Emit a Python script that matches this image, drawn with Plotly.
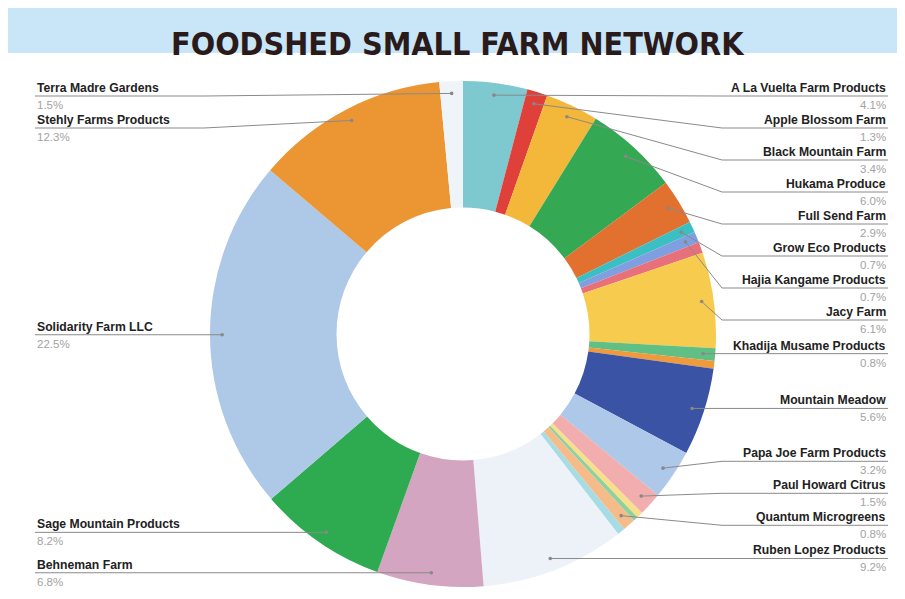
import plotly.graph_objects as go
import math

W, H = 905, 599

# ---- data ----
farms = [
    "A La Vuelta Farm Products", "Apple Blossom Farm", "Black Mountain Farm",
    "Hukama Produce", "Full Send Farm", "Grow Eco Products",
    "Hajia Kangame Products", "", "Jacy Farm", "Khadija Musame Products", "",
    "Mountain Meadow", "Papa Joe Farm Products", "Paul Howard Citrus", "", "",
    "Quantum Microgreens", "", "Ruben Lopez Products", "Behneman Farm",
    "Sage Mountain Products", "Solidarity Farm LLC", "Stehly Farms Products",
    "Terra Madre Gardens",
]
shares = [4.1, 1.3, 3.4, 6.0, 2.9, 0.7, 0.7, 0.7, 6.1, 0.8, 0.5, 5.6, 3.2, 1.5,
          0.4, 0.3, 0.8, 0.5, 9.2, 6.8, 8.2, 22.5, 12.3, 1.5]
colors = ["#7ec8d0", "#e0403a", "#f3b73a", "#34a853", "#e2702f", "#3cbfc3",
          "#7f9fe0", "#e8707a", "#f7cb4d", "#5fbf84", "#ef9a3c", "#3a53a4",
          "#aec8ea", "#f2aeae", "#f8e08a", "#8fd0a0", "#f5bc8a", "#a8dce4",
          "#ecf2f8", "#d4a5c0", "#2eaa50", "#aec8e8", "#eb9632", "#eef4f8"]
title_text = "FOODSHED SMALL FARM NETWORK"

# ---- layout constants (screen pixels) ----
OFF = 8  # page body margin offset
CX, CY, R = 463, 334, 253
HOLE = 0.5
DOT_R = 0.952 * R
RIGHT_TEXT_X, LEFT_TEXT_X = 888, 35
ELBOW_OFF = 259
SPACING = 32
YMIN, YMAX = 96, 580


def px(x):
    return (x - OFF) / W


def py(y):
    return 1 - (y - OFF) / H


fig = go.Figure()
fig.add_trace(go.Pie(
    labels=[f if f else f"other {i}" for i, f in enumerate(farms)],
    values=shares, sort=False, direction="clockwise", rotation=0,
    hole=HOLE, marker=dict(colors=colors, line=dict(width=0)),
    textinfo="none", hoverinfo="label+percent", showlegend=False,
    domain=dict(x=[px(CX - R), px(CX + R)],
                y=[py(CY + R), py(CY - R)]),
))

total = sum(shares)
items = []
cum = 0.0
for name, v in zip(farms, shares):
    mid = (cum + v / 2) / total * 2 * math.pi
    cum += v
    if not name:
        continue
    dx = CX + DOT_R * math.sin(mid)
    dy = CY - DOT_R * math.cos(mid)
    items.append(dict(name=name, pct=v / total * 100, dx=dx, dy=dy,
                      side="right" if mid < math.pi else "left"))


def relax(desired):
    clusters = [[i, i, d] for i, d in enumerate(desired)]
    changed = True
    while changed:
        changed = False
        for c in clusters:
            n = c[1] - c[0] + 1
            mean = sum(desired[c[0]:c[1] + 1]) / n - SPACING * (n - 1) / 2
            c[2] = min(max(mean, YMIN), YMAX - SPACING * (n - 1))
        for k in range(len(clusters) - 1):
            a, b = clusters[k], clusters[k + 1]
            end_a = a[2] + SPACING * (a[1] - a[0])
            if b[2] < end_a + SPACING - 1e-6:
                clusters[k] = [a[0], b[1], 0]
                del clusters[k + 1]
                changed = True
                break
    out = []
    for c in clusters:
        for j in range(c[1] - c[0] + 1):
            out.append(c[2] + SPACING * j)
    return out


shapes = []
annotations = []
line_style = dict(color="#8a8a8a", width=1)
for side in ("right", "left"):
    group = sorted([it for it in items if it["side"] == side], key=lambda t: t["dy"])
    ys = relax([it["dy"] for it in group])
    for it, ly in zip(group, ys):
        if side == "right":
            tx, ex, anchor = RIGHT_TEXT_X, CX + ELBOW_OFF, "right"
        else:
            tx, ex, anchor = LEFT_TEXT_X, CX - ELBOW_OFF, "left"
        shapes.append(dict(type="line", xref="paper", yref="paper", layer="above",
                           x0=px(tx), y0=py(ly), x1=px(ex), y1=py(ly), line=line_style))
        shapes.append(dict(type="line", xref="paper", yref="paper", layer="above",
                           x0=px(ex), y0=py(ly), x1=px(it["dx"]), y1=py(it["dy"]),
                           line=line_style))
        shapes.append(dict(type="circle", xref="paper", yref="paper", layer="above",
                           x0=px(it["dx"] - 1.8), x1=px(it["dx"] + 1.8),
                           y0=py(it["dy"] - 1.8), y1=py(it["dy"] + 1.8),
                           fillcolor="#888888", line=dict(width=0)))
        annotations.append(dict(x=px(tx), y=py(ly - 8), xref="paper", yref="paper",
                                text=f"<b>{it['name']}</b>", showarrow=False,
                                xanchor=anchor, yanchor="middle",
                                font=dict(family="Liberation Sans, Arial", size=12.2,
                                          color="#222222")))
        annotations.append(dict(x=px(tx), y=py(ly + 9), xref="paper", yref="paper",
                                text=f"{it['pct']:.1f}%", showarrow=False,
                                xanchor=anchor, yanchor="middle",
                                font=dict(family="Liberation Sans, Arial", size=11.5,
                                          color="#a3a3a3")))

# background decorations: title band and left border
shapes.insert(0, dict(type="rect", xref="paper", yref="paper", layer="below",
                      x0=px(4), x1=px(W + OFF), y0=py(53), y1=py(5),
                      fillcolor="#c8e6f8", line=dict(width=0)))
shapes.insert(0, dict(type="line", xref="paper", yref="paper", layer="below",
                      x0=px(6), x1=px(6), y0=py(53), y1=py(455),
                      line=dict(color="#d6ecf8", width=2)))
shapes.insert(0, dict(type="line", xref="paper", yref="paper", layer="below",
                      x0=px(6), x1=px(6), y0=py(455), y1=py(H + OFF),
                      line=dict(color="#b8d46c", width=3)))

annotations.append(dict(x=px(458), y=py(44), xref="paper", yref="paper",
                        text=f"<b>{title_text}</b>", showarrow=False, xanchor="center",
                        yanchor="middle",
                        font=dict(family="DejaVu Sans Condensed, DejaVu Sans",
                                  size=32, color="#2b1a1a")))

fig.update_layout(
    width=W, height=H, margin=dict(l=0, r=0, t=0, b=0),
    paper_bgcolor="white", plot_bgcolor="white",
    shapes=shapes, annotations=annotations, showlegend=False,
)
fig.write_html("out.html")
